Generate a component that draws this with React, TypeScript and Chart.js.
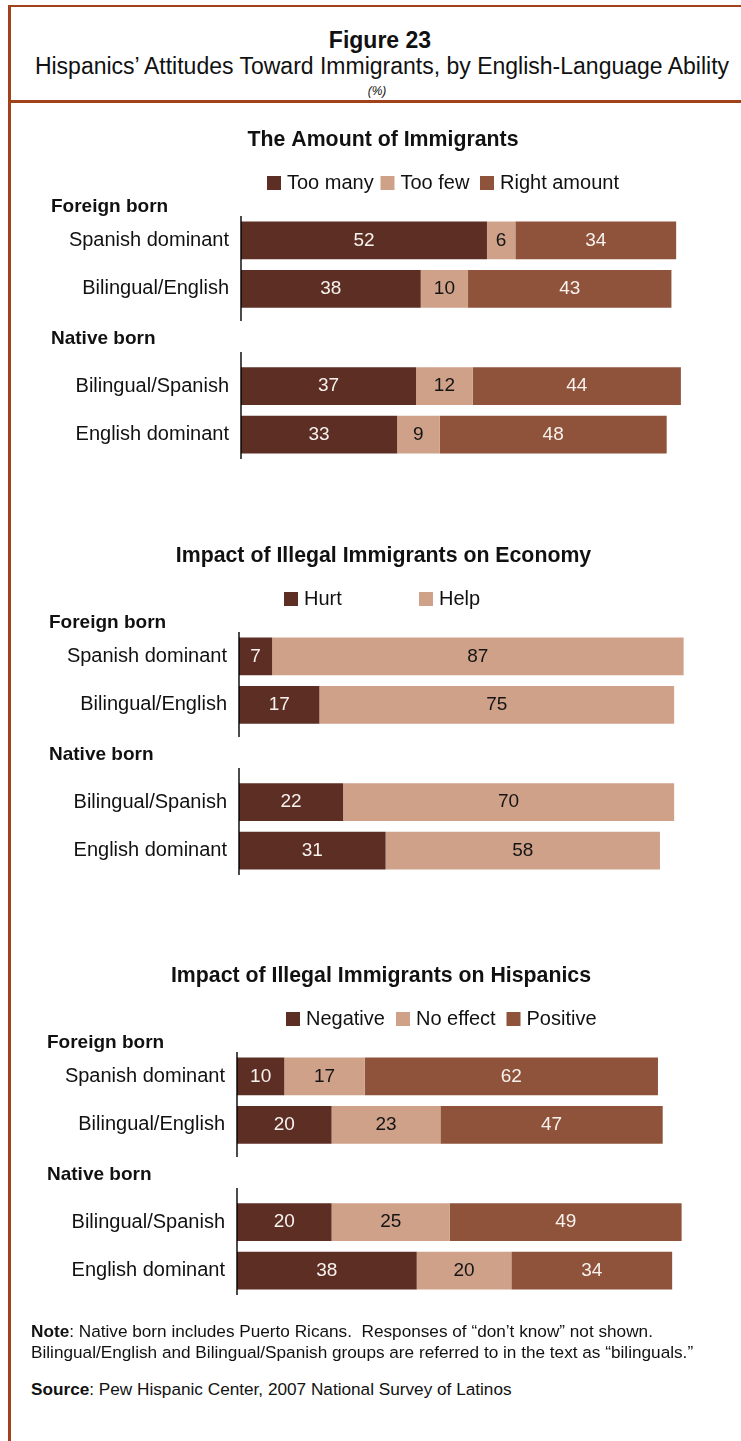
import React, { useEffect, useRef } from "react";
import { Chart, registerables } from "chart.js";

Chart.register(...registerables);

// ---------- Data ----------
const rowLabels = ["Spanish dominant", "Bilingual/English", "", "Bilingual/Spanish", "English dominant"];
const groupLabels = ["Foreign born", "Native born"];

const amountTitle = "The Amount of Immigrants";
const amountSeries = ["Too many", "Too few", "Right amount"];
const amountTooMany = [52, 38, null, 37, 33];
const amountTooFew = [6, 10, null, 12, 9];
const amountRight = [34, 43, null, 44, 48];

const economyTitle = "Impact of Illegal Immigrants on Economy";
const economySeries = ["Hurt", "Help"];
const economyHurt = [7, 17, null, 22, 31];
const economyHelp = [87, 75, null, 70, 58];

const hispanicsTitle = "Impact of Illegal Immigrants on Hispanics";
const hispanicsSeries = ["Negative", "No effect", "Positive"];
const hispanicsNegative = [10, 20, null, 20, 38];
const hispanicsNoEffect = [17, 23, null, 25, 20];
const hispanicsPositive = [62, 47, null, 49, 34];

// ---------- Styles ----------
const FONT = "'Liberation Sans', Arial, sans-serif";
const DARK = "#5d2e24";
const TAN = "#cfa189";
const MEDIUM = "#8f523a";
const LIGHT_TEXT = "#f7f2ee";
const DARK_TEXT = "#141414";
const RUST = "#a2421b";
const INK = "#111111";

const SCALE_PX = 473; // width of 0..100
const CANVAS_W = 716;
const CANVAS_H = 375;
const AREA_TOP = 100;
const AREA_H = 243;

type PanelProps = {
  left: number;
  top: number;
  axisX: number;
  titleCx: number;
  title: string;
  series: string[];
  values: (number | null)[][];
  colors: string[];
  textColors: string[];
  legendX: number[];
};

function Panel(p: PanelProps) {
  const ref = useRef<HTMLCanvasElement>(null);
  useEffect(() => {
    const canvas = ref.current!;
    const L = p.left;
    const decor = {
      id: "decor",
      afterDatasetsDraw(chart: any) {
        const ctx = chart.ctx;
        const area = chart.chartArea;
        const yScale = chart.scales.y;
        ctx.save();
        // value labels
        chart.data.datasets.forEach((ds: any, di: number) => {
          const meta = chart.getDatasetMeta(di);
          meta.data.forEach((el: any, i: number) => {
            const v = ds.data[i];
            if (v == null) return;
            const props = el.getProps(["x", "base", "y"], true);
            ctx.fillStyle = p.textColors[di];
            ctx.font = `19px ${FONT}`;
            ctx.textAlign = "center";
            ctx.textBaseline = "middle";
            ctx.fillText(String(v), (props.x + props.base) / 2, props.y);
          });
        });
        // broken axis line
        ctx.strokeStyle = "#000";
        ctx.lineWidth = 1.4;
        const ax = area.left;
        ctx.beginPath();
        ctx.moveTo(ax, area.top);
        ctx.lineTo(ax, yScale.getPixelForValue(1) + 32);
        ctx.moveTo(ax, yScale.getPixelForValue(3) - 34);
        ctx.lineTo(ax, area.bottom);
        ctx.stroke();
        // panel title
        ctx.fillStyle = INK;
        ctx.font = `bold 21.3px ${FONT}`;
        ctx.textAlign = "center";
        ctx.textBaseline = "middle";
        ctx.fillText(p.title, p.titleCx - L, area.top - 76);
        // group labels
        ctx.font = `bold 19px ${FONT}`;
        ctx.textAlign = "left";
        const gx = p.axisX - 190 - L;
        ctx.fillText(groupLabels[0], gx, area.top - 9);
        ctx.fillText(groupLabels[1], gx, yScale.getPixelForValue(2) + 1);
        // legend
        const ly = area.top - 33;
        chart.data.datasets.forEach((ds: any, di: number) => {
          const bx = p.legendX[di] - L;
          ctx.fillStyle = ds.backgroundColor;
          ctx.fillRect(bx, ly - 7, 14, 14);
          ctx.fillStyle = INK;
          ctx.font = `20px ${FONT}`;
          ctx.textAlign = "left";
          ctx.textBaseline = "middle";
          ctx.fillText(ds.label, bx + 20, ly);
        });
        ctx.restore();
      },
    };
    const chart = new Chart(canvas, {
      type: "bar",
      data: {
        labels: rowLabels,
        datasets: p.series.map((s, i) => ({
          label: s,
          data: p.values[i],
          backgroundColor: p.colors[i],
          borderWidth: 0,
          barPercentage: 0.776,
          categoryPercentage: 1,
        })),
      },
      options: {
        indexAxis: "y",
        responsive: false,
        animation: false,
        layout: {
          padding: {
            left: 0,
            right: CANVAS_W - (p.axisX + SCALE_PX - L),
            top: AREA_TOP,
            bottom: CANVAS_H - AREA_TOP - AREA_H,
          },
        },
        scales: {
          x: { stacked: true, min: 0, max: 100, display: false },
          y: {
            stacked: true,
            grid: { display: false, drawTicks: false },
            border: { display: false },
            ticks: {
              color: INK,
              font: { family: FONT, size: 20 },
              padding: 12,
              autoSkip: false,
            },
            afterFit: (s: any) => {
              s.width = p.axisX - L;
            },
          },
        },
        plugins: {
          legend: { display: false },
          tooltip: { enabled: false },
          title: { display: false, text: p.title },
        },
      },
      plugins: [decor],
    } as any);
    return () => chart.destroy();
  }, []);
  return (
    <canvas
      ref={ref}
      width={CANVAS_W}
      height={CANVAS_H}
      style={{ position: "absolute", left: p.left, top: p.top, width: CANVAS_W, height: CANVAS_H }}
    />
  );
}

function Line(props: { text: React.ReactNode; size: number; cy: number; left?: number; cx?: number; bold?: boolean; italic?: boolean }) {
  const style: React.CSSProperties = {
    position: "absolute",
    top: props.cy - 0.49 * props.size,
    fontSize: props.size,
    lineHeight: `${props.size}px`,
    fontWeight: props.bold ? "bold" : "normal",
    fontStyle: props.italic ? "italic" : "normal",
    whiteSpace: "pre",
    color: INK,
  };
  if (props.cx !== undefined) {
    style.left = props.cx - 400;
    style.width = 800;
    style.textAlign = "center";
  } else {
    style.left = props.left;
  }
  return <div style={style}>{props.text}</div>;
}

export default function App() {
  return (
    <div
      style={{
        position: "absolute",
        left: 0,
        top: 0,
        width: 741,
        height: 1441,
        background: "#fff",
        overflow: "hidden",
        fontFamily: FONT,
      }}
    >
      <div style={{ position: "absolute", left: 8, top: 5, width: 733, height: 2, background: RUST }} />
      <div style={{ position: "absolute", left: 8, top: 5, width: 3, height: 1436, background: RUST }} />
      <div style={{ position: "absolute", left: 8, top: 100, width: 733, height: 3, background: RUST }} />

      <Line text="Figure 23" size={23} cy={40} cx={380} bold />
      <Line text="Hispanics’ Attitudes Toward Immigrants, by English-Language Ability" size={23} cy={66.5} cx={382} />
      <Line text="(%)" size={12} cy={91} cx={377} italic />

      <Panel
        left={25}
        top={116}
        axisX={241}
        titleCx={383}
        title={amountTitle}
        series={amountSeries}
        values={[amountTooMany, amountTooFew, amountRight]}
        colors={[DARK, TAN, MEDIUM]}
        textColors={[LIGHT_TEXT, DARK_TEXT, LIGHT_TEXT]}
        legendX={[267, 380.5, 480]}
      />
      <Panel
        left={23}
        top={532}
        axisX={239}
        titleCx={383.5}
        title={economyTitle}
        series={economySeries}
        values={[economyHurt, economyHelp]}
        colors={[DARK, TAN]}
        textColors={[LIGHT_TEXT, DARK_TEXT]}
        legendX={[284, 419]}
      />
      <Panel
        left={21}
        top={952}
        axisX={237}
        titleCx={381}
        title={hispanicsTitle}
        series={hispanicsSeries}
        values={[hispanicsNegative, hispanicsNoEffect, hispanicsPositive]}
        colors={[DARK, TAN, MEDIUM]}
        textColors={[LIGHT_TEXT, DARK_TEXT, LIGHT_TEXT]}
        legendX={[286, 396, 506.5]}
      />

      <Line
        text={<><b>Note</b>: Native born includes Puerto Ricans.  Responses of “don’t know” not shown.</>}
        size={17.2}
        cy={1331}
        left={31}
      />
      <Line
        text="Bilingual/English and Bilingual/Spanish groups are referred to in the text as “bilinguals.”"
        size={17.2}
        cy={1352}
        left={31}
      />
      <Line
        text={<><b>Source</b>: Pew Hispanic Center, 2007 National Survey of Latinos</>}
        size={17.2}
        cy={1389}
        left={31}
      />
    </div>
  );
}
